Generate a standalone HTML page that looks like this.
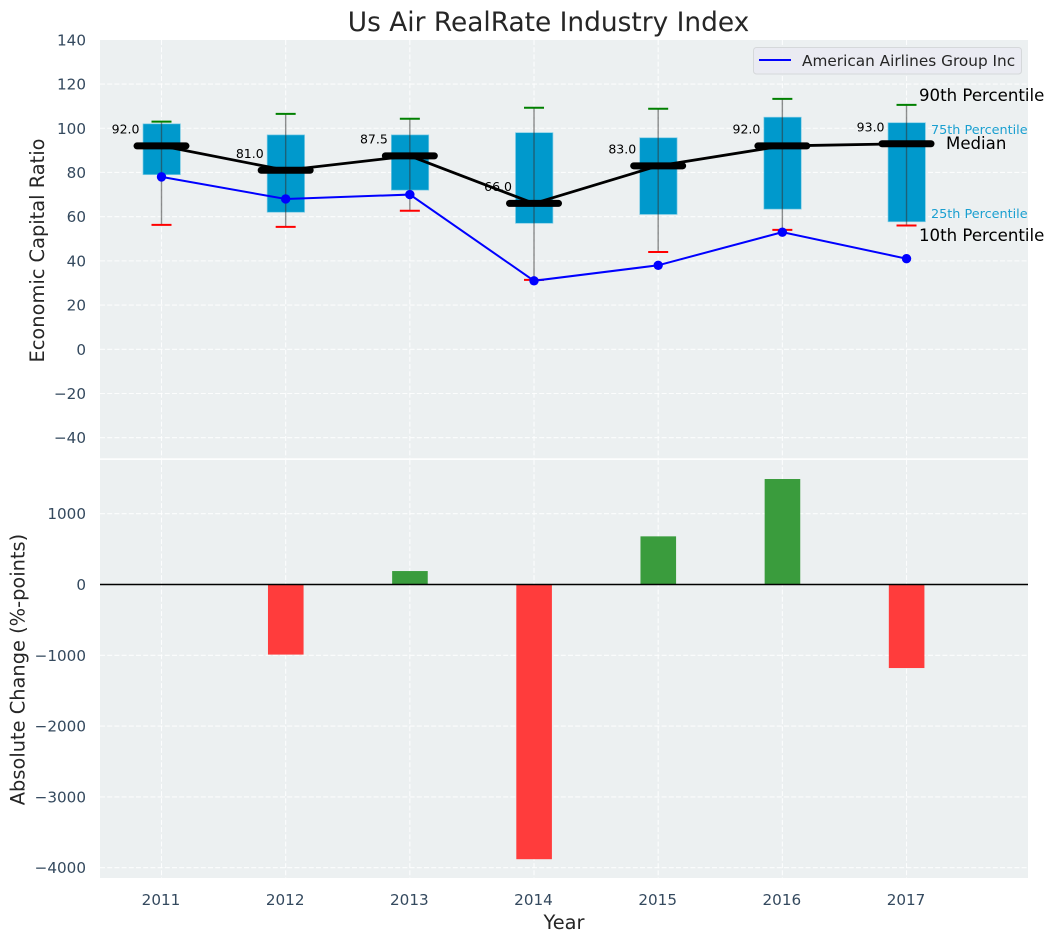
<!DOCTYPE html>
<html lang="en">
<head>
<meta charset="utf-8">
<title>Us Air RealRate Industry Index</title>
<style>
html,body{margin:0;padding:0;background:#fff;}
svg{display:block;font-family:"DejaVu Sans","Liberation Sans",sans-serif;}
</style>
</head>
<body>
<svg id="chart" width="1054" height="942" viewBox="0 0 1054 942" xmlns="http://www.w3.org/2000/svg">
  <rect x="100" y="40" width="928" height="418.3" fill="#ecf0f1"/>
  <rect x="100" y="459.9" width="928" height="418.1" fill="#ecf0f1"/>
  <g id="grid"></g>
  <g id="marks"></g>
  <g id="labels"></g>
  <text x="548.5" y="31" font-size="26.4" text-anchor="middle" fill="#262626">Us Air RealRate Industry Index</text>
  <text transform="translate(44,250.5) rotate(-90)" font-size="19.4" text-anchor="middle" fill="#262626">Economic Capital Ratio</text>
  <text transform="translate(24.5,669.5) rotate(-90)" font-size="19.4" text-anchor="middle" fill="#262626">Absolute Change (%-points)</text>
  <text x="564" y="929" font-size="19.4" text-anchor="middle" fill="#262626">Year</text>
  <g>
    <rect x="753.5" y="47.5" width="268" height="26.5" rx="3" fill="#eaeaf2" fill-opacity="0.9" stroke="#d5d8da" stroke-width="1"/>
    <line x1="759" y1="60" x2="791" y2="60" stroke="#0000ff" stroke-width="2"/>
    <text x="802" y="66" font-size="15.3" fill="#262626">American Airlines Group Inc</text>
  </g>
  <g>
    <text x="919" y="101" font-size="16.6" fill="#000">90th Percentile</text>
    <text x="931" y="134" font-size="12.8" fill="#1a9fd0">75th Percentile</text>
    <text x="946" y="149" font-size="16.6" fill="#000">Median</text>
    <text x="931" y="218" font-size="12.8" fill="#1a9fd0">25th Percentile</text>
    <text x="919" y="241" font-size="16.6" fill="#000">10th Percentile</text>
  </g>
</svg>
<script>
const years = [2011, 2012, 2013, 2014, 2015, 2016, 2017];
const p90 = [103, 106.5, 104.3, 109.3, 108.8, 113.3, 110.6];
const p75 = [102, 97, 97, 98, 95.7, 105, 102.5];
const medians = [92, 81, 87.5, 66, 83, 92, 93];
const p25 = [79, 62, 72, 57, 61, 63.4, 57.7];
const p10 = [56.3, 55.4, 62.7, 31.4, 44, 54, 56];
const company = [78, 68, 70, 31, 38, 53, 41];
const changes = [0, -990, 190, -3880, 680, 1490, -1180];
const topTicks = [140, 120, 100, 80, 60, 40, 20, 0, -20, -40];
const bottomTicks = [1000, 0, -1000, -2000, -3000, -4000];

const NS = 'http://www.w3.org/2000/svg';
const xScale = function (year) { return 161.5 + (year - 2011) * 124.17; };
const yTop = function (v) { return 349.3 - v * 2.2105; };
const yBottom = function (v) { return 584.5 - v * 0.0708; };
const fmt = function (v) { return v < 0 ? '\u2212' + Math.abs(v) : String(v); };

function make(parent, tag, props, text) {
  const el = document.createElementNS(NS, tag);
  Object.keys(props).forEach(function (k) { el.setAttribute(k, props[k]); });
  if (text !== undefined) el.textContent = text;
  parent.appendChild(el);
  return el;
}

const grid = document.getElementById('grid');
const marks = document.getElementById('marks');
const labels = document.getElementById('labels');
const gridStyle = { stroke: '#ffffff', 'stroke-width': 1.1, 'stroke-dasharray': '5 2.2', 'stroke-opacity': 0.85 };

topTicks.forEach(function (t) {
  const y = yTop(t);
  if (t !== 140) {
    const g = make(grid, 'line', Object.assign({ x1: 100, x2: 1028, y1: y, y2: y }, gridStyle));
    
    
  }
  const l = make(labels, 'text', { x: 86, y: y + 5.5, 'font-size': 15.2, 'text-anchor': 'end', fill: '#34495e' }, fmt(t));
  
  
});

bottomTicks.forEach(function (t) {
  const y = yBottom(t);
  const g = make(grid, 'line', Object.assign({ x1: 100, x2: 1028, y1: y, y2: y }, gridStyle));
  
  
  const l = make(labels, 'text', { x: 86, y: y + 5.5, 'font-size': 15.2, 'text-anchor': 'end', fill: '#34495e' }, fmt(t));
  
  
});

years.forEach(function (yr) {
  const x = xScale(yr);
  const a = make(grid, 'line', Object.assign({ x1: x, x2: x, y1: 40, y2: 458.3 }, gridStyle));
  
  
  const b = make(grid, 'line', Object.assign({ x1: x, x2: x, y1: 459.9, y2: 878 }, gridStyle));
  
  
  const l = make(labels, 'text', { x: x - 0.5, y: 905, 'font-size': 15.2, 'text-anchor': 'middle', fill: '#34495e' }, String(yr));
  
  
});

/* change bars */
years.forEach(function (yr, i) {
  const v = changes[i];
  if (v === 0) return;
  const y0 = yBottom(0), y1 = yBottom(v);
  const bar = make(marks, 'rect', {
    x: xScale(yr) - 17.7, width: 35.6,
    y: Math.min(y0, y1), height: Math.abs(y1 - y0),
    fill: v < 0 ? '#ff3c3c' : '#3a9c3d'
  });
  
  
});
const zero = make(marks, 'line', { x1: 100, x2: 1028, y1: yBottom(0), y2: yBottom(0), stroke: '#000', 'stroke-width': 1.4 });



/* boxes */
years.forEach(function (yr, i) {
  const x = xScale(yr);
  const box = make(marks, 'rect', {
    x: x - 18.5, width: 37.4, y: yTop(p75[i]), height: yTop(p25[i]) - yTop(p75[i]),
    fill: '#0099cc', stroke: '#7fcce5', 'stroke-width': 0.7
  });
  
  
});

/* median value labels sit beneath the lines */
years.forEach(function (yr, i) {
  const t = make(marks, 'text', {
    x: xScale(yr) - 22, y: yTop(medians[i]) - 12.3, 'font-size': 12.5, 'text-anchor': 'end', fill: '#000'
  }, medians[i].toFixed(1));
  
  
});

/* whiskers and caps */
years.forEach(function (yr, i) {
  const x = xScale(yr);
  const w = make(marks, 'line', { x1: x, x2: x, y1: yTop(p90[i]), y2: yTop(p10[i]), stroke: '#333', 'stroke-opacity': 0.55, 'stroke-width': 1.4 });
  
  
  const hi = make(marks, 'line', { x1: x - 10, x2: x + 10, y1: yTop(p90[i]), y2: yTop(p90[i]), stroke: '#008000', 'stroke-width': 2 });
  
  
  const lo = make(marks, 'line', { x1: x - 10, x2: x + 10, y1: yTop(p10[i]), y2: yTop(p10[i]), stroke: '#ff0000', 'stroke-width': 2 });
  
  
});

/* median line and thick ticks */
const medianPath = years.map(function (yr, i) { return xScale(yr) + ',' + yTop(medians[i]); }).join(' ');
const ml = make(marks, 'polyline', { points: medianPath, fill: 'none', stroke: '#000', 'stroke-width': 2.8 });


years.forEach(function (yr, i) {
  const x = xScale(yr);
  const m = make(marks, 'line', { x1: x - 24.5, x2: x + 24.5, y1: yTop(medians[i]), y2: yTop(medians[i]), stroke: '#000', 'stroke-width': 7, 'stroke-linecap': 'round' });
  
  
});

/* company series */
const companyPath = years.map(function (yr, i) { return xScale(yr) + ',' + yTop(company[i]); }).join(' ');
const cl = make(marks, 'polyline', { points: companyPath, fill: 'none', stroke: '#0000ff', 'stroke-width': 2 });


years.forEach(function (yr, i) {
  const p = make(marks, 'circle', { cx: xScale(yr), cy: yTop(company[i]), r: 4.7, fill: '#0000ff' });
  
  
});
</script>
</body>
</html>
